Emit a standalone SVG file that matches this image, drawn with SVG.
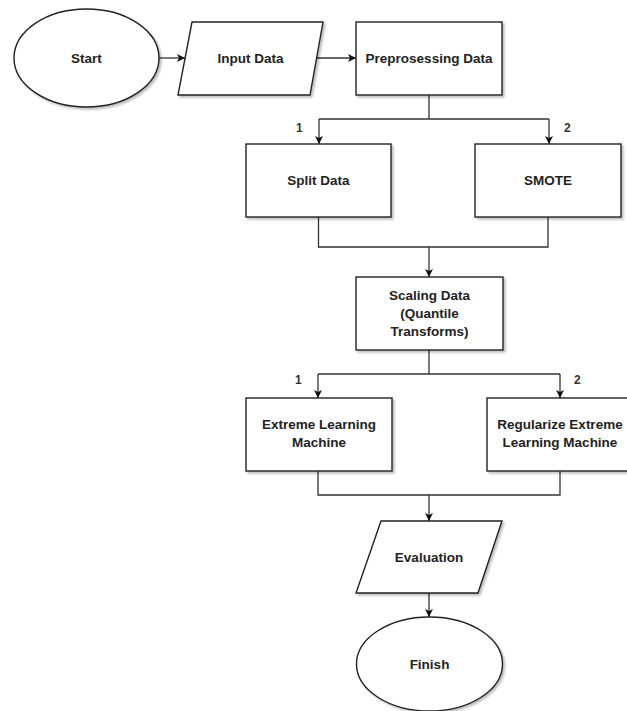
<svg xmlns="http://www.w3.org/2000/svg" width="627" height="711" viewBox="0 0 627 711">
<defs>
<marker id="arr" viewBox="0 0 10 10" refX="10" refY="5" markerWidth="8" markerHeight="8" markerUnits="userSpaceOnUse" orient="auto">
<path d="M0,0 L10,5 L0,10 L2.5,5 Z" fill="#111"/>
</marker>
<filter id="sh" x="-10%" y="-10%" width="130%" height="130%">
<feDropShadow dx="2" dy="2" stdDeviation="1.2" flood-color="#000" flood-opacity="0.25"/>
</filter>
<style>
.n{fill:#fff;stroke:#222;stroke-width:1.4;filter:url(#sh)}
.t{font-family:"Liberation Sans",Arial,sans-serif;font-weight:bold;font-size:13.5px;fill:#222;text-anchor:middle}
.l{font-family:"Liberation Sans",Arial,sans-serif;font-weight:bold;font-size:12px;fill:#333}
.c{fill:none;stroke:#333;stroke-width:1.3}
</style>
</defs>
<rect width="627" height="711" fill="#fff"/>
<g id="connectors">
<path class="c" d="M159,58 H185" marker-end="url(#arr)"/>
<path class="c" d="M317,58 H356" marker-end="url(#arr)"/>
<path class="c" d="M429,95 V119 M319,119 H549"/>
<path class="c" d="M319,119 V144" marker-end="url(#arr)"/>
<path class="c" d="M549,119 V144" marker-end="url(#arr)"/>
<path class="c" d="M318.5,217 V247 H548 V217"/>
<path class="c" d="M429,247 V277" marker-end="url(#arr)"/>
<path class="c" d="M429,350 V374 M318,374 H560"/>
<path class="c" d="M318,374 V398" marker-end="url(#arr)"/>
<path class="c" d="M560,374 V398" marker-end="url(#arr)"/>
<path class="c" d="M318,471 V495 H560 V471"/>
<path class="c" d="M429,495 V521" marker-end="url(#arr)"/>
<path class="c" d="M429,593 V617" marker-end="url(#arr)"/>
<text class="l" x="296" y="132">1</text>
<text class="l" x="564" y="132">2</text>
<text class="l" x="295" y="384">1</text>
<text class="l" x="574" y="384">2</text>
</g>
<g id="start">
<ellipse class="n" cx="86.5" cy="58" rx="72.5" ry="49"/>
<text class="t" x="86.5" y="63">Start</text>
</g>
<g id="input">
<polygon class="n" points="192,22 323,22 310,95 178,95"/>
<text class="t" x="250.5" y="63">Input Data</text>
</g>
<g id="preprocessing">
<rect class="n" x="356" y="22" width="146" height="73"/>
<text class="t" x="429" y="63">Preprosessing Data</text>
</g>
<g id="split">
<rect class="n" x="246" y="144" width="145" height="73"/>
<text class="t" x="318.5" y="185">Split Data</text>
</g>
<g id="smote">
<rect class="n" x="475" y="144" width="146" height="73"/>
<text class="t" x="548" y="185">SMOTE</text>
</g>
<g id="scaling">
<rect class="n" x="356" y="277" width="147" height="73"/>
<text class="t" x="429.5" y="300">Scaling Data</text>
<text class="t" x="429.5" y="318">(Quantile</text>
<text class="t" x="429.5" y="336">Transforms)</text>
</g>
<g id="elm">
<rect class="n" x="246" y="398" width="146" height="73"/>
<text class="t" x="319" y="429">Extreme Learning</text>
<text class="t" x="319" y="447">Machine</text>
</g>
<g id="relm">
<rect class="n" x="487" y="398" width="146" height="73"/>
<text class="t" x="560" y="429">Regularize Extreme</text>
<text class="t" x="560" y="447">Learning Machine</text>
</g>
<g id="evaluation">
<polygon class="n" points="381,521 502,521 478,593 356,593"/>
<text class="t" x="429" y="562">Evaluation</text>
</g>
<g id="finish">
<ellipse class="n" cx="429.5" cy="664" rx="73" ry="47"/>
<text class="t" x="429.5" y="669">Finish</text>
</g>
</svg>
